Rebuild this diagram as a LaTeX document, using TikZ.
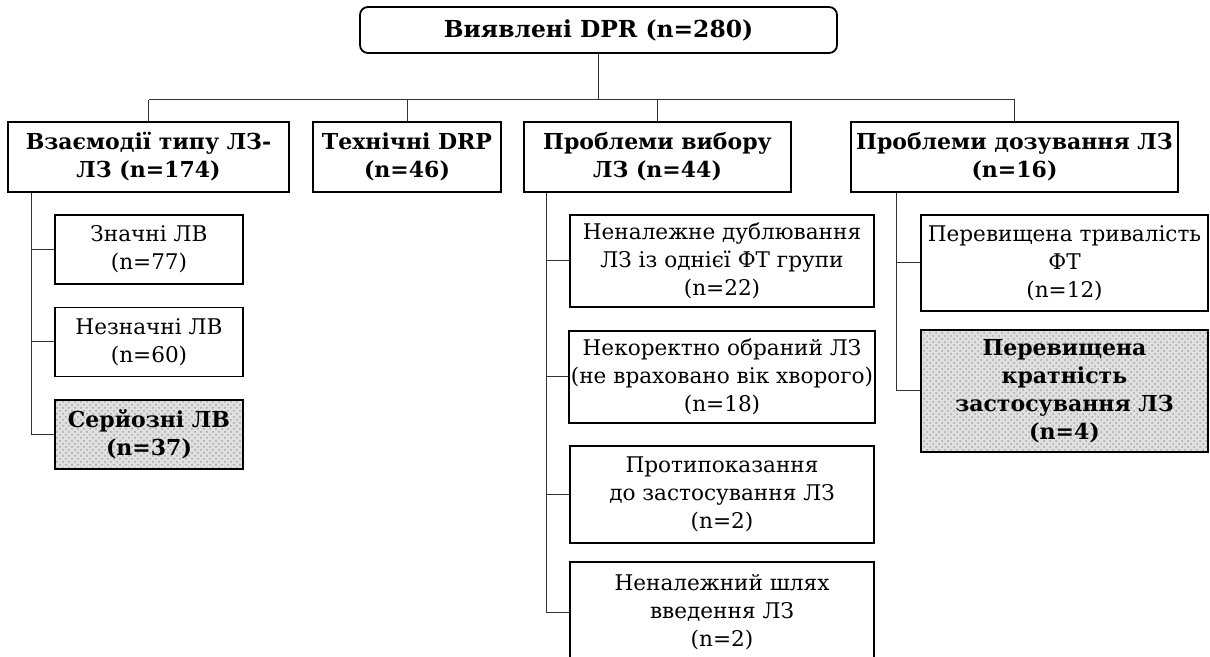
\documentclass[tikz,border=0pt]{standalone}
\usepackage{fontspec}
\setmainfont{DejaVu Serif}
\usepackage{tikz}
\usetikzlibrary{patterns}

\tikzset{
  box/.style={draw, line width=0.9pt, inner sep=1pt, align=center, font=\fontsize{10.8}{14}\selectfont},
  boldbox/.style={box, font=\fontsize{11}{14}\selectfont\bfseries},
  shadebox/.style={boldbox, preaction={fill=black!12}, pattern=crosshatch dots, pattern color=black!35},
  link/.style={line width=0.5pt, black!80}
}

\begin{document}
\begin{tikzpicture}[x=0.5pt,y=-0.5pt]
            \useasboundingbox (0,0) rectangle (1210,657);
            % top level
            \node[boldbox, font=\fontsize{11.7}{14}\selectfont\bfseries, rounded corners=4pt, minimum width=238.5pt, minimum height=23pt] (dpr) at (598.5,30) {Виявлені DPR (n=280)};
            \node[boldbox, minimum width=140.5pt, minimum height=35pt] (inter) at (148.5,157) {Взаємодії типу ЛЗ-\\ЛЗ (n=174)};
            \node[boldbox, minimum width=94pt, minimum height=35pt] (tech) at (407,157) {Технічні DRP\\(n=46)};
            \node[boldbox, minimum width=133.5pt, minimum height=35pt] (choice) at (657.5,157) {Проблеми вибору\\ЛЗ (n=44)};
            \node[boldbox, minimum width=163.5pt, minimum height=35pt] (dose) at (1014.5,157) {Проблеми дозування ЛЗ\\(n=16)};
            \coordinate (bus) at (598.5,100);
            \draw[link] (dpr.south) -- (dpr.south |- bus);
            \draw[link] (inter.north |- bus) -- (dose.north |- bus);
            \foreach \n in {inter,tech,choice,dose}
                \draw[link] (\n.north) -- (\n.north |- bus);
            % interactions
            \node[box, minimum width=94pt, minimum height=34.5pt] (sig) at (149,249.5) {Значні ЛВ\\(n=77)};
            \node[box, minimum width=94pt, minimum height=34.5pt] (minor) at (149,342) {Незначні ЛВ\\(n=60)};
            \node[shadebox, minimum width=94pt, minimum height=34.5pt] (serious) at (149,434.5) {Серйозні ЛВ\\(n=37)};
            \draw[link] ([xshift=12pt]inter.south west) |- (serious.west);
            \foreach \n in {sig,minor}
                \draw[link] (\n.west) -- ([xshift=12pt]inter.south west |- \n.west);
            % choice problems
            \node[box, minimum width=152pt, minimum height=46pt] (dupl) at (722,261) {Неналежне дублювання\\ЛЗ із однієї ФТ групи\\(n=22)};
            \node[box, minimum width=152pt, minimum height=46pt] (wrong) at (722,377) {Некоректно обраний ЛЗ\\(не враховано вік хворого)\\(n=18)};
            \node[box, minimum width=152pt, minimum height=48.5pt] (contra) at (722,494.5) {Протипоказання\\до застосування ЛЗ\\(n=2)};
            \node[box, minimum width=152pt, minimum height=50pt] (route) at (722,612) {Неналежний шлях\\введення ЛЗ\\(n=2)};
            \draw[link] ([xshift=11.5pt]choice.south west) |- (route.west);
            \foreach \n in {dupl,wrong,contra}
                \draw[link] (\n.west) -- ([xshift=11.5pt]choice.south west |- \n.west);
            % dosing problems
            \node[box, minimum width=143.5pt, minimum height=48pt] (long) at (1064.5,263) {Перевищена тривалість\\ФТ\\(n=12)};
            \node[shadebox, minimum width=143.5pt, minimum height=61pt] (freq) at (1064.5,391) {Перевищена\\кратність\\застосування ЛЗ\\(n=4)};
            \draw[link] ([xshift=23pt]dose.south west) |- (freq.west);
            \draw[link] (long.west) -- ([xshift=23pt]dose.south west |- long.west);
\end{tikzpicture}
\end{document}
